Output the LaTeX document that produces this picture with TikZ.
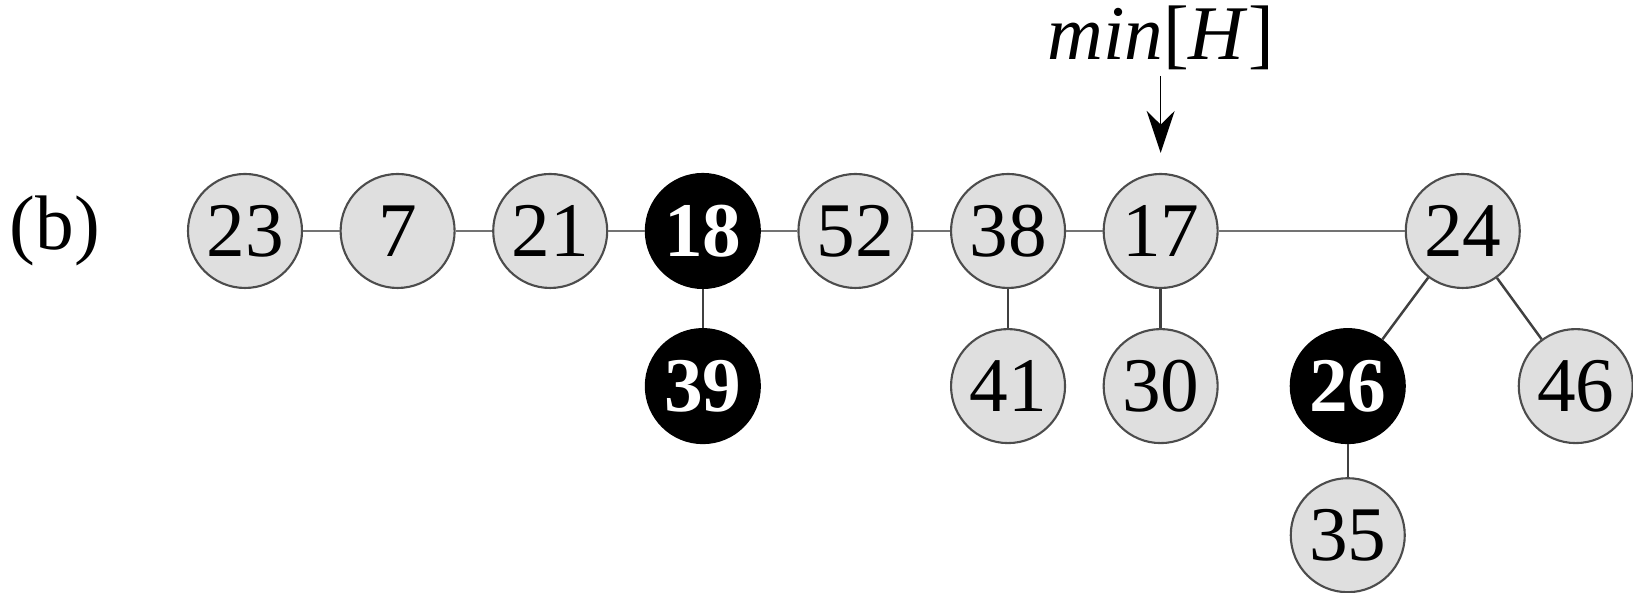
\documentclass[tikz,border=0pt]{standalone}
\usepackage{fontspec}
\setmainfont{Liberation Serif}
\usepackage{tikz}
\usetikzlibrary{arrows.meta, positioning}
\tikzset{
  % heap nodes
  keynode/.style={
    circle, fill=gray!25, draw=black!70,
    line width=0.6pt, minimum size=1.14cm, inner sep=0pt,
    font=\fontsize{22}{26}\selectfont
  },
  marknode/.style={
    keynode, fill=black, draw=black,
    text=white, font=\fontsize{22}{26}\selectfont\bfseries
  },
  rootlink/.style={draw=black!55, line width=0.4pt},
  childlink/.style={draw=black!75, line width=0.7pt},
  ptrarrow/.style={
    -{Stealth[length=0.42cm, width=0.28cm]}, line width=0.4pt,
    shorten >=0.2cm
  }
}

\begin{document}
\begin{tikzpicture}[node distance=0.365cm]
  \useasboundingbox (0,0) rectangle (16.33,5.93);

  \node[font=\fontsize{22}{26}\selectfont] (tag) at (0.55,3.62) {(b)};

  % root list
  \node[keynode] (n23) at (2.45,3.62) {23};
  \node[keynode, right=of n23] (n7) {7};
  \node[keynode, right=of n7] (n21) {21};
  \node[marknode, right=of n21] (n18) {18};
  \node[keynode, right=of n18] (n52) {52};
  \node[keynode, right=of n52] (n38) {38};
  \node[keynode, right=of n38] (n17) {17};
  \node[keynode, right=1.86cm of n17] (n24) {24};

  % children
  \node[marknode, below=0.39cm of n18] (n39) {39};
  \node[keynode, below=0.39cm of n38] (n41) {41};
  \node[keynode, below=0.39cm of n17] (n30) {30};
  \node[marknode, below=0.39cm of n24, xshift=-1.15cm] (n26) {26};
  \node[keynode, below=0.39cm of n24, xshift=1.13cm] (n46) {46};
  \node[keynode, below=0.33cm of n26] (n35) {35};

  \draw[rootlink] (n23)--(n7);
  \draw[rootlink] (n7)--(n21);
  \draw[rootlink] (n21)--(n18);
  \draw[rootlink] (n18)--(n52);
  \draw[rootlink] (n52)--(n38);
  \draw[rootlink] (n38)--(n17);
  \draw[rootlink] (n17)--(n24);

  \draw[childlink] (n18)--(n39);
  \draw[childlink] (n38)--(n41);
  \draw[childlink] (n17)--(n30);
  \draw[childlink] (n24)--(n26);
  \draw[childlink] (n24)--(n46);
  \draw[childlink] (n26)--(n35);

  % min pointer
  \node[font=\fontsize{22}{26}\selectfont, inner sep=0.05cm, above=0.97cm of n17] (minH)
    {\textit{min}[\textit{H}]};
  \draw[ptrarrow] (minH)--(n17);

\end{tikzpicture}
\end{document}
